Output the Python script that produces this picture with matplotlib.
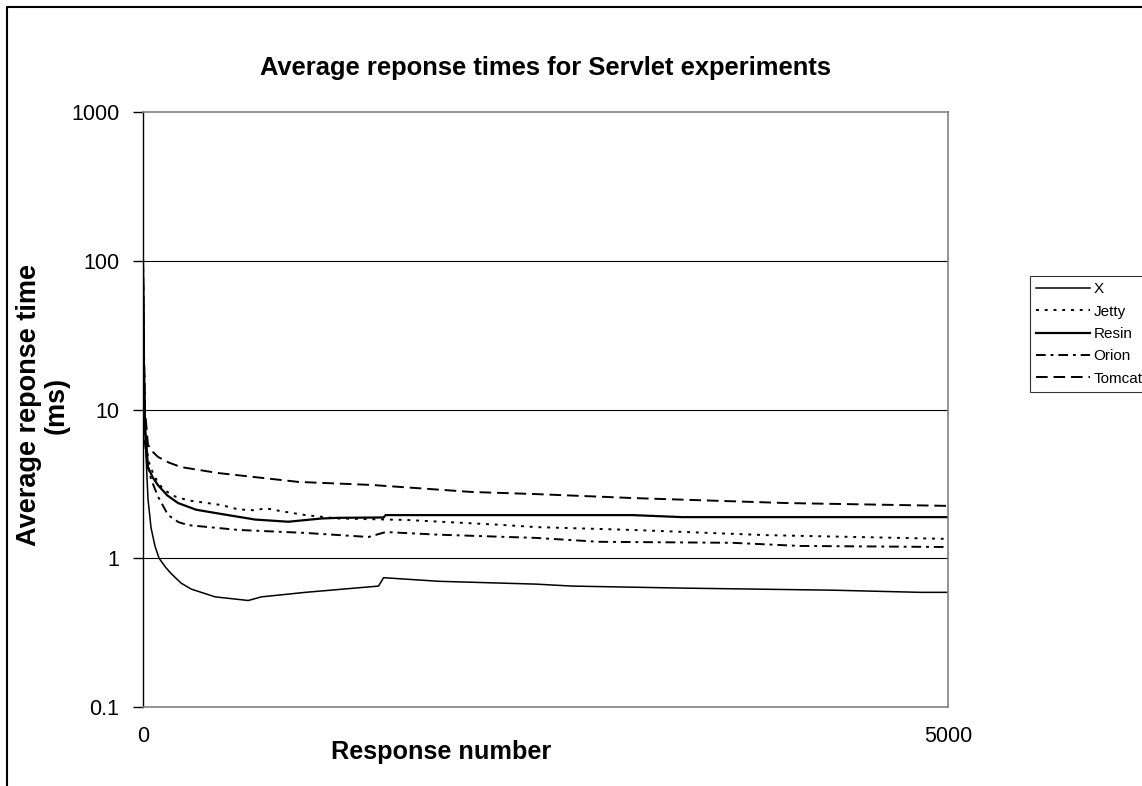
import matplotlib
matplotlib.use('Agg')
import matplotlib.pyplot as plt
from matplotlib.lines import Line2D

plt.rcParams['font.family'] = ['Liberation Sans', 'DejaVu Sans']

# response number vs average response time (ms)
tomcat_x = [0, 6, 12, 31, 60, 93, 160, 237, 467, 965, 1420, 2042, 2441, 3039, 3998, 4994]
tomcat_y = [100, 25, 10, 5.8, 5.2, 4.8, 4.4, 4.1, 3.74, 3.26, 3.11, 2.79, 2.70, 2.54, 2.35, 2.25]

resin_x = [0, 6, 12, 31, 60, 93, 150, 218, 330, 467, 697, 903, 1108, 1214, 1494, 1507, 2211, 3039, 3350, 4994]
resin_y = [100, 20, 8, 4.1, 3.5, 3.1, 2.65, 2.35, 2.12, 2.0, 1.82, 1.76, 1.85, 1.87, 1.88, 1.95, 1.95, 1.95, 1.89, 1.89]

jetty_x = [0, 6, 12, 31, 60, 93, 137, 200, 280, 486, 592, 697, 760, 850, 1009, 1214, 1631, 2211, 2441, 3039, 3873, 4994]
jetty_y = [100, 22, 9, 4.6, 3.8, 3.2, 2.85, 2.6, 2.45, 2.28, 2.13, 2.10, 2.17, 2.08, 1.95, 1.85, 1.81, 1.68, 1.62, 1.55, 1.43, 1.35]

orion_x = [0, 6, 12, 31, 50, 93, 156, 220, 280, 592, 1009, 1401, 1507, 1837, 2441, 2833, 3661, 4079, 4994]
orion_y = [100, 15, 6, 4.1, 3.4, 2.6, 1.95, 1.75, 1.67, 1.55, 1.48, 1.39, 1.50, 1.44, 1.37, 1.29, 1.27, 1.21, 1.19]

x_x = [0, 6, 12, 31, 50, 75, 100, 140, 174, 237, 300, 448, 654, 735, 1009, 1463, 1494, 1837, 2441, 2665, 3350, 4284, 4826, 4994]
x_y = [100, 30, 7, 2.5, 1.6, 1.2, 1.0, 0.87, 0.79, 0.68, 0.62, 0.55, 0.52, 0.55, 0.59, 0.65, 0.74, 0.70, 0.67, 0.65, 0.63, 0.61, 0.59, 0.59]

yticks = [0.1, 1, 10, 100, 1000]
ytick_labels = ['0.1', '1', '10', '100', '1000']

W, H = 1142, 786
fig = plt.figure(figsize=(W / 100, H / 100), dpi=100)
ax = fig.add_axes([143 / W, 1 - 707 / H, (948 - 143) / W, (707 - 112) / H])

ax.plot(x_x, x_y, color='black', linewidth=1.1, label='X')
ax.plot(jetty_x, jetty_y, color='black', linewidth=1.4, linestyle=(0, (1.5, 3)), label='Jetty')
ax.plot(resin_x, resin_y, color='black', linewidth=1.6, label='Resin')
ax.plot(orion_x, orion_y, color='black', linewidth=1.4, linestyle=(0, (5, 2.5, 1.5, 2.5)), label='Orion')
ax.plot(tomcat_x, tomcat_y, color='black', linewidth=1.4, linestyle=(0, (6, 3)), label='Tomcat')

ax.set_yscale('log')
ax.set_ylim(0.1, 1000)
ax.set_xlim(0, 5000)
ax.set_yticks(yticks)
ax.set_yticklabels(ytick_labels)
ax.minorticks_off()
ax.set_xticks([0, 5000])
ax.set_xticklabels(['0', '5000'])
ax.tick_params(axis='y', labelsize=15.5, length=7, width=1, direction='out', pad=10)
ax.tick_params(axis='x', labelsize=15.5, length=0, pad=14)

for v in [1, 10, 100]:
    ax.axhline(v, color='black', linewidth=0.8, zorder=0)
ax.spines['left'].set_color('black')
ax.spines['left'].set_linewidth(1.0)
for s in ['top', 'right', 'bottom']:
    ax.spines[s].set_color('#808080')
    ax.spines[s].set_linewidth(1.2)

fig.text(545 / W, 1 - 68 / H, 'Average reponse times for Servlet experiments',
         ha='center', va='center', fontsize=18.4, fontweight='bold')
fig.text(441 / W, 1 - 752 / H, 'Response number', ha='center', va='center',
         fontsize=18.2, fontweight='bold')
fig.text(43 / W, 1 - 405 / H, 'Average reponse time\n(ms)', ha='center', va='center',
         rotation=90, multialignment='center', fontsize=19.5, fontweight='bold',
         linespacing=1.05)

leg = fig.legend(loc='upper left', bbox_to_anchor=(1030 / W, 1 - 276 / H),
                 fontsize=11, frameon=True, fancybox=False, shadow=False,
                 handlelength=3.5, handletextpad=0.25, labelspacing=0.55,
                 borderpad=0.4, borderaxespad=0)
leg.get_frame().set_edgecolor('black')
leg.get_frame().set_linewidth(0.8)

# outer chart frame (left and top edges visible)
fig.add_artist(Line2D([6.5 / W, 6.5 / W, 1.0], [0.0, 1 - 6.5 / H, 1 - 6.5 / H],
                      transform=fig.transFigure, color='black', linewidth=1.5))

fig.savefig('out.png', dpi=100)
